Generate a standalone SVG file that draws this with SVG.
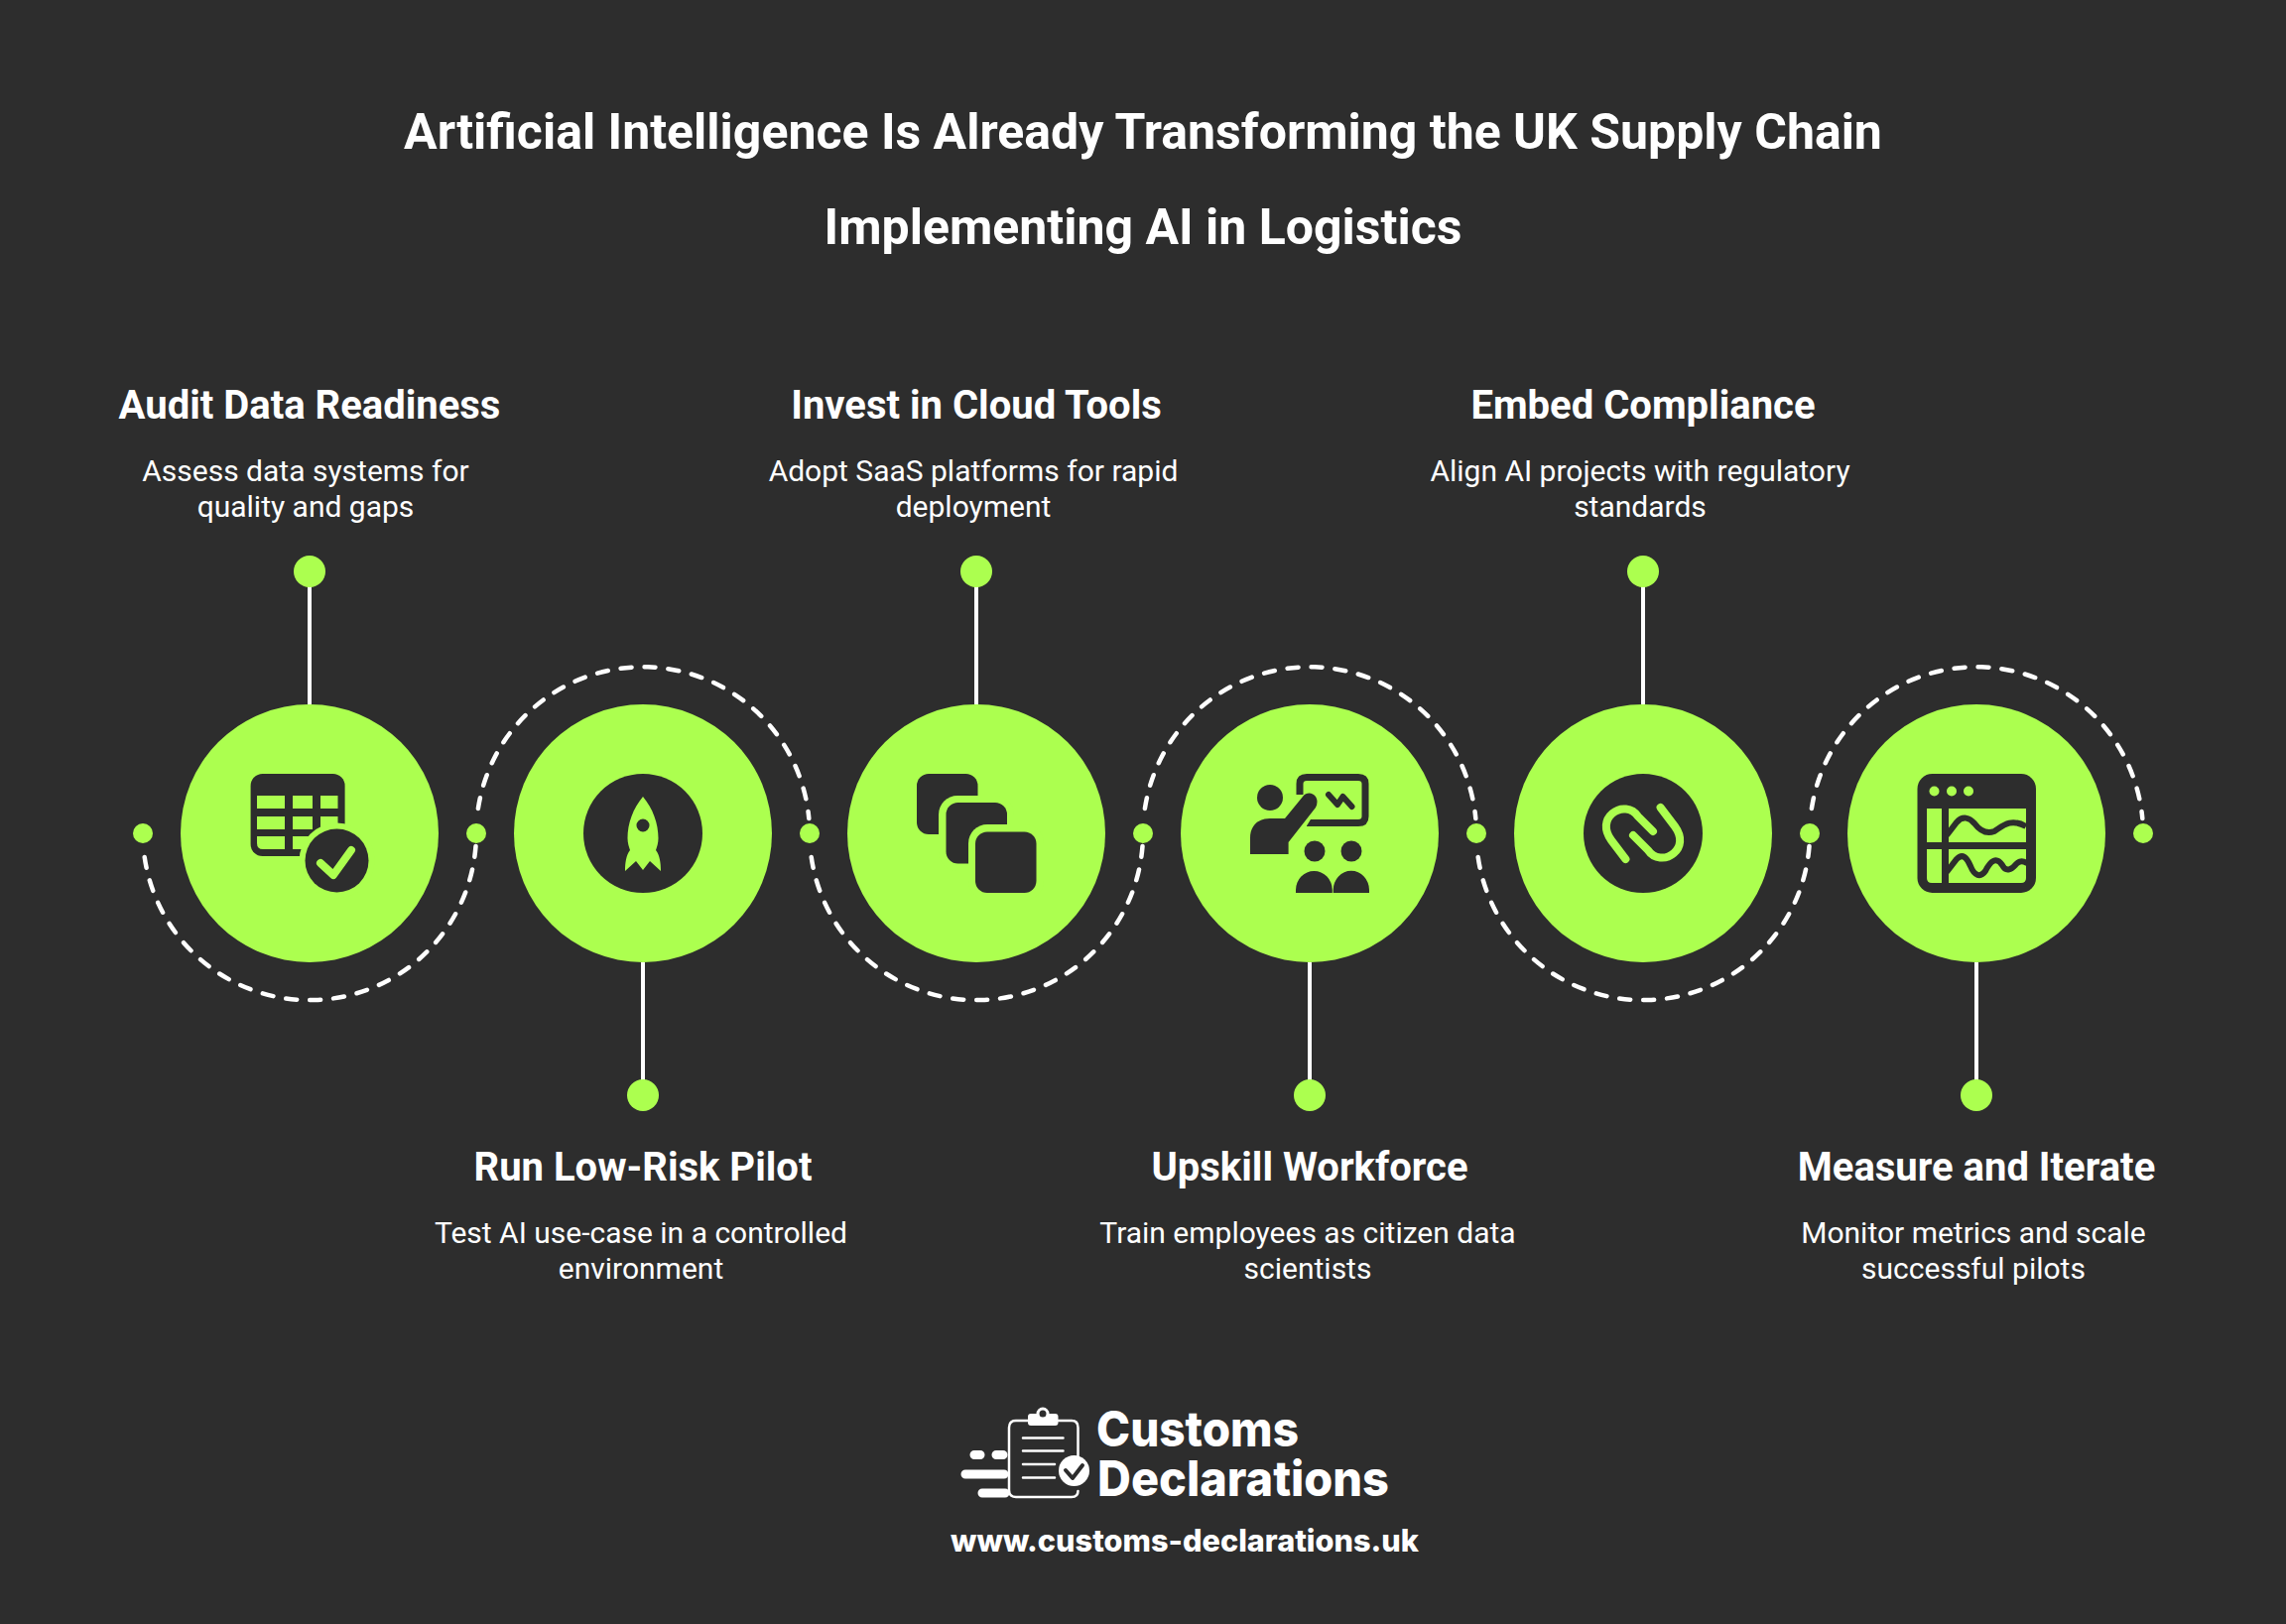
<svg xmlns="http://www.w3.org/2000/svg" width="2304" height="1637" viewBox="0 0 2304 1637">
<style>
text{font-family:Roboto,"Liberation Sans",sans-serif;fill:#fff;text-anchor:middle}
.t{font-size:50px;font-weight:700}
.h{font-size:40px;font-weight:700}
.b{font-size:30px;font-weight:400}
.logo{font-family:Inter,"Open Sans",sans-serif;font-weight:800;text-anchor:start}
.lime{fill:#acff4f}
.dark{fill:#2d2d2d}
.wave{fill:none;stroke:#2d2d2d;stroke-width:6}
.dash{fill:none;stroke:#fff;stroke-width:4.500;stroke-linecap:round;stroke-dasharray:11 13}
.stem{stroke:#fff;stroke-width:4}
.ll{stroke:#fff;stroke-width:2.500;stroke-linecap:round;fill:none}
.bar{stroke:#fff;stroke-width:9;stroke-linecap:round}
</style>
<rect width="2304" height="1637" fill="#2d2d2d"/>
<g id="title">
<text class="t" x="1152" y="150">Artificial Intelligence Is Already Transforming the UK Supply Chain</text>
<text class="t" x="1152" y="246">Implementing AI in Logistics</text>
</g>
<g id="connectors">
<path class="dash" d="M145.700 864A168 168 0 0 0 479.500 853"/>
<path class="dash" d="M481.900 815A168 168 0 0 1 815.300 825"/>
<path class="dash" d="M817.700 864A168 168 0 0 0 1151.500 853"/>
<path class="dash" d="M1153.900 815A168 168 0 0 1 1487.300 825"/>
<path class="dash" d="M1489.700 864A168 168 0 0 0 1823.500 853"/>
<path class="dash" d="M1825.900 815A168 168 0 0 1 2159.300 825"/>
<path class="stem" d="M312 576V710M984 576V710M1656 576V710M648 970V1104M1320 970V1104M1992 970V1104"/>
<g class="lime">
<circle cx="144" cy="840" r="10"/><circle cx="480" cy="840" r="10"/><circle cx="816" cy="840" r="10"/><circle cx="1152" cy="840" r="10"/><circle cx="1488" cy="840" r="10"/><circle cx="1824" cy="840" r="10"/><circle cx="2160" cy="840" r="10"/>
</g>
</g>
<g id="node1">
<circle class="lime" cx="312" cy="840" r="130"/><circle class="lime" cx="312" cy="576" r="16"/>
<rect class="dark" x="252.600" y="780" width="95" height="83" rx="12"/>
<path class="lime" d="M259 802h28v13h-28zM295 802h20v13h-20zM323 802h17.500v13h-17.500zM259 823h28v13h-28zM295 823h20v13h-20zM323 823h17.500v13h-17.500zM259 843h28v13h-22q-6 0-6-6zM295 843h20v13h-20z"/>
<circle class="lime" cx="339.500" cy="867.500" r="38"/><circle class="dark" cx="339.500" cy="867.500" r="32"/>
<path d="M323 870L336 882L354 857" fill="none" stroke="#acff4f" stroke-width="8" stroke-linecap="round" stroke-linejoin="round"/>
<text class="h" x="312" y="422">Audit Data Readiness</text>
<text class="b" x="308" y="485">Assess data systems for</text><text class="b" x="308" y="521">quality and gaps</text>
</g>
<g id="node2">
<circle class="lime" cx="648" cy="840" r="130"/><circle class="lime" cx="648" cy="1104" r="16"/>
<circle class="dark" cx="648" cy="840" r="60"/>
<path class="lime" fill-rule="evenodd" d="M648 803C638 815 632.500 830 632.500 845C632.500 850 634 854 635 857C631 862 630 870 630 878L641 868L648 877L655 868L666 878C666 870 665 862 661 857C662 854 663.500 850 663.500 845C663.500 830 658 815 648 803ZM648 825.500a6.500 6.500 0 1 1 0 13a6.500 6.500 0 1 1 0-13Z"/>
<text class="h" x="648" y="1190">Run Low-Risk Pilot</text>
<text class="b" x="646" y="1253">Test AI use-case in a controlled</text><text class="b" x="646" y="1289">environment</text>
</g>
<g id="node3">
<circle class="lime" cx="984" cy="840" r="130"/><circle class="lime" cx="984" cy="576" r="16"/>
<rect class="dark" x="924" y="780" width="61.500" height="61" rx="12"/>
<rect class="lime" x="946" y="802" width="76" height="76" rx="19"/>
<rect class="dark" x="953.500" y="809" width="61.500" height="61.500" rx="12"/>
<rect class="lime" x="976" y="831" width="76" height="76" rx="19"/>
<rect class="dark" x="983" y="838.500" width="61.500" height="61.500" rx="12"/>
<text class="h" x="984" y="422">Invest in Cloud Tools</text>
<text class="b" x="981" y="485">Adopt SaaS platforms for rapid</text><text class="b" x="981" y="521">deployment</text>
</g>
<g id="node4">
<circle class="lime" cx="1320" cy="840" r="130"/><circle class="lime" cx="1320" cy="1104" r="16"/>
<path d="M1310 801V790Q1310 783.500 1317 783.500H1369Q1376 783.500 1376 790V823Q1376 829.500 1369 829.500H1317" fill="none" stroke="#2d2d2d" stroke-width="7"/>
<path d="M1339 801L1348 811L1353.500 803L1362.500 813" fill="none" stroke="#2d2d2d" stroke-width="6" stroke-linecap="round" stroke-linejoin="round"/>
<circle class="dark" cx="1280" cy="804" r="13"/>
<path class="lime" d="M1303 829L1316 797L1332 808L1305 852Z"/>
<path class="dark" d="M1260 861V845C1260 832 1268 825 1280 825H1295L1313 803C1317 798 1323 799 1326 803C1328 806 1328 810 1326 814L1298.600 849V861Z"/>
<circle class="dark" cx="1325" cy="858" r="10.500"/><circle class="dark" cx="1362" cy="858" r="10.500"/>
<path class="dark" d="M1306 900V897A18.400 19 0 0 1 1342.800 897V900ZM1343.700 900V897A18 19 0 0 1 1380 897V900Z"/>
<text class="h" x="1320" y="1190">Upskill Workforce</text>
<text class="b" x="1318" y="1253">Train employees as citizen data</text><text class="b" x="1318" y="1289">scientists</text>
</g>
<g id="node5">
<circle class="lime" cx="1656" cy="840" r="130"/><circle class="lime" cx="1656" cy="576" r="16"/>
<circle class="dark" cx="1656" cy="840" r="60"/>
<g fill="none" stroke="#acff4f" stroke-width="8" stroke-linecap="round">
<path d="M1638.400 866L1624 847C1616 836 1618 826 1625 820C1633 813 1645 814 1651 823L1666 838"/>
<path d="M1638.400 866L1624 847C1616 836 1618 826 1625 820C1633 813 1645 814 1651 823L1666 838" transform="rotate(180 1656 840)"/>
</g>
<text class="h" x="1656" y="422">Embed Compliance</text>
<text class="b" x="1653" y="485">Align AI projects with regulatory</text><text class="b" x="1653" y="521">standards</text>
</g>
<g id="node6">
<circle class="lime" cx="1992" cy="840" r="130"/><circle class="lime" cx="1992" cy="1104" r="16"/>
<rect class="dark" x="1932.500" y="780" width="119.500" height="120" rx="15"/>
<circle class="lime" cx="1949.500" cy="797.500" r="5"/><circle class="lime" cx="1967" cy="797.500" r="5"/><circle class="lime" cx="1984" cy="797.500" r="5"/>
<path class="lime" d="M1942 815h15v34h-15zM1942 856h15v34h-10q-5 0-5-5zM1964 815h78v34h-78zM1964 856h78v29q0 5-5 5h-73z"/>
<path class="wave" d="M1962 842L1972 829C1978 822 1985 824 1990 830C1996 838 2002 841 2010 838C2018 833 2026 824 2042 833"/>
<path class="wave" d="M1962 879L1972 866C1978 860 1982 864 1986 873C1990 883 1996 885 2001 878C2006 868 2012 863 2018 872C2022 880 2028 876 2032 871C2036 867 2039 868 2043 870"/>
<text class="h" x="1992" y="1190">Measure and Iterate</text>
<text class="b" x="1989" y="1253">Monitor metrics and scale</text><text class="b" x="1989" y="1289">successful pilots</text>
</g>
<g id="logo">
<path class="ll" d="M1036 1432H1024Q1017 1432 1017 1439V1502Q1017 1509 1024 1509H1080Q1086.500 1509 1086.500 1503M1066.500 1432H1080Q1086.500 1432 1086.500 1439V1468"/>
<rect x="1036" y="1425" width="30.500" height="12" rx="3" fill="#fff"/><circle cx="1051" cy="1425" r="5" fill="#2d2d2d" stroke="#fff" stroke-width="3"/>
<path class="ll" d="M1031 1449.500H1071.500M1031 1462.500H1071.500M1031 1476H1063M1031 1489.500H1063"/>
<circle cx="1082.500" cy="1482.500" r="15.500" fill="#fff"/>
<path d="M1074 1482L1081 1490L1091 1477" fill="none" stroke="#2d2d2d" stroke-width="4" stroke-linecap="round" stroke-linejoin="round"/>
<path class="bar" d="M982 1466.500H988M1004 1466.500H1011M973 1486H1012M990 1505H1013"/>
<text class="logo" x="1105" y="1458" font-size="49" textLength="204" lengthAdjust="spacingAndGlyphs">Customs</text>
<text class="logo" x="1106" y="1508" font-size="49" textLength="294" lengthAdjust="spacingAndGlyphs">Declarations</text>
<text class="logo" x="958" y="1564" font-size="31" textLength="472" lengthAdjust="spacingAndGlyphs">www.customs-declarations.uk</text>
</g>
</svg>
